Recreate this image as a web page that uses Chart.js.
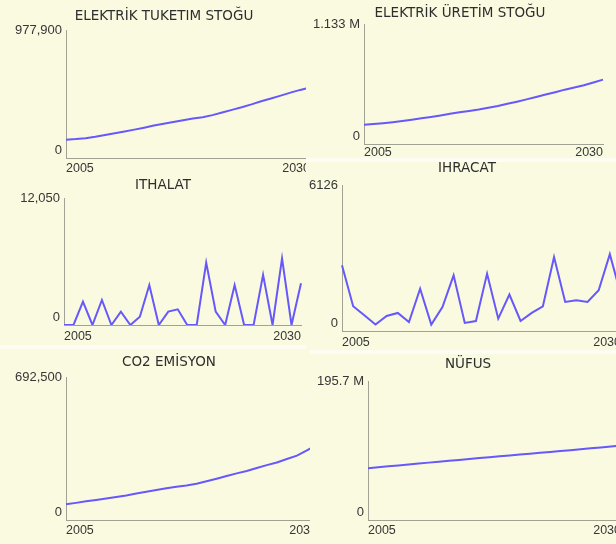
<!DOCTYPE html>
<html>
<head>
<meta charset="utf-8">
<script src="https://cdn.jsdelivr.net/npm/chart.js@4.4.0/dist/chart.umd.min.js"></script>
<style>
  body { margin: 0; width: 616px; height: 544px; overflow: hidden; position: relative; background: #fdfdf3; }
  .panel { position: absolute; overflow: hidden; background: #fafae1; }
  .panel canvas { position: absolute; }
</style>
</head>
<body>
<script>
// yillar (x ekseni)
var years = ['2005','2006','2007','2008','2009','2010','2011','2012','2013','2014','2015','2016','2017',
             '2018','2019','2020','2021','2022','2023','2024','2025','2026','2027','2028','2029','2030'];
var xTickLabels = ['2005', '2030'];

// seriler
var elektrikTuketim = [140000,145000,152000,163000,176000,189000,203000,217000,232000,248000,262000,276000,289000,
                       302000,312000,328000,348000,368000,388000,410000,434000,455000,477000,500000,521000,540000];
var elektrikUretim = [181000,188000,196000,206000,217000,229000,243000,256000,270000,286000,300000,313000,326000,
                      343000,360000,380000,400000,422000,445000,468000,490000,514000,535000,555000,582000,609000];
var ithalat = [0,0,2220,0,2380,0,1270,0,790,3800,0,1270,1490,0,0,5930,1270,0,3800,0,0,4760,0,6340,0,3960];
var ihracat = [2760,1040,660,270,630,760,380,1780,270,1010,2340,340,420,2410,520,1530,420,760,1040,3110,
               1220,1290,1220,1710,3230,1500];
var co2Emisyon = [76000,83000,91000,97000,104000,112000,119000,128000,137000,146000,154000,161000,167000,
                  176000,188000,200000,213000,226000,238000,252000,266000,279000,296000,312000,338000,365000];
var nufus = [73100000,74400000,75700000,77000000,78300000,79600000,80900000,82100000,83400000,84700000,
             86000000,87300000,88500000,89800000,91000000,92300000,93500000,94800000,96000000,97300000,
             98500000,99700000,101000000,102300000,103600000,104900000];

var titles = ['ELEKTRİK TUKETIM STOĞU', 'ELEKTRİK ÜRETİM STOĞU', 'ITHALAT', 'IHRACAT', 'CO2 EMİSYON', 'NÜFUS'];
var yMax = [977900, 1133000, 12050, 6126, 692500, 195700000];
var yMaxLabels = ['977,900', '1.133 M', '12,050', '6126', '692,500', '195.7 M'];

var series = [elektrikTuketim, elektrikUretim, ithalat, ihracat, co2Emisyon, nufus];

// panel yerlesimi: kutu (sayfa), canvas (sayfa), ic bosluklar
var panels = [
  { box: [0, 0, 306, 176],     canvas: [0, 0, 330, 178],     padL: 18, padR: 20, tp: 8.3,  tb: 7.3,  yw: 48, xp: 3 },
  { box: [306, 0, 310, 158],   canvas: [306, 0, 317, 164],   padL: 11, padR: 20, tp: 4.8,  tb: 4.8,  yw: 47, xp: 1 },
  { box: [0, 176, 306, 169],   canvas: [0, 170, 321, 175],   padL: 25, padR: 20, tp: 6.8,  tb: 6.8,  yw: 39, xp: 4.5 },
  { box: [306, 162, 310, 188], canvas: [306, 155, 335, 196], padL: 7,  padR: 20, tp: 5.3,  tb: 10.3, yw: 29, xp: 4.5 },
  { box: [0, 349, 310, 195],   canvas: [0, 345, 337, 195],   padL: 21, padR: 20, tp: 8.8,  tb: 8.8,  yw: 45, xp: 3 },
  { box: [310, 354, 306, 190], canvas: [310, 345, 331, 195], padL: 5,  padR: 20, tp: 10.8, tb: 10.8, yw: 53, xp: 3.5 }
];

var lineColor = 'rgb(102, 88, 250)';
var axisColor = '#a2a294';
var textColor = '#363636';

// y ekseni etiketleri eksen kutusuna kirpilmasin diye kutuyu sola uzat
var labelRoom = {
  id: 'labelRoom',
  afterLayout: function (chart) { chart.scales.y.left = 0; }
};

panels.forEach(function (p, i) {
  var div = document.createElement('div');
  div.className = 'panel';
  div.style.left = p.box[0] + 'px';
  div.style.top = p.box[1] + 'px';
  div.style.width = p.box[2] + 'px';
  div.style.height = p.box[3] + 'px';
  var cv = document.createElement('canvas');
  cv.width = p.canvas[2];
  cv.height = p.canvas[3];
  cv.style.left = (p.canvas[0] - p.box[0]) + 'px';
  cv.style.top = (p.canvas[1] - p.box[1]) + 'px';
  div.appendChild(cv);
  document.body.appendChild(div);

  new Chart(cv.getContext('2d'), {
    type: 'line',
    data: {
      labels: years,
      datasets: [{
        data: series[i],
        borderColor: lineColor,
        borderWidth: 2,
        pointRadius: 0,
        tension: 0,
        fill: false
      }]
    },
    options: {
      responsive: false,
      animation: false,
      devicePixelRatio: 1,
      layout: { padding: { left: p.padL, right: p.padR, top: 0, bottom: 0 } },
      plugins: {
        legend: { display: false },
        tooltip: { enabled: false },
        title: {
          display: true,
          text: titles[i],
          color: '#2e2e2e',
          font: { family: "'DejaVu Sans', sans-serif", size: 13.5, weight: 'normal', lineHeight: 1.2 },
          padding: { top: p.tp + 0.3, bottom: p.tb - 1.9 }
        }
      },
      scales: {
        x: {
          type: 'category',
          offset: false,
          grid: { display: false, drawTicks: false },
          border: { color: axisColor, width: 1 },
          ticks: {
            autoSkip: false,
            maxRotation: 0,
            align: 'inner',
            padding: p.xp,
            color: textColor,
            font: { family: "'Liberation Sans', sans-serif", size: 12.5 },
            callback: function (v, idx) {
              if (idx === 0) return xTickLabels[0];
              if (idx === years.length - 1) return xTickLabels[1];
              return '';
            }
          },
          afterFit: function (s) { s.height = 20; }
        },
        y: {
          min: 0,
          max: yMax[i],
          grid: { display: false, drawTicks: false },
          border: { color: axisColor, width: 1 },
          afterBuildTicks: function (s) { s.ticks = [{ value: 0 }, { value: yMax[i] }]; },
          ticks: {
            padding: 4,
            color: textColor,
            font: { family: "'Liberation Sans', sans-serif", size: 13 },
            // sifir etiketi eksenin biraz ustunde duruyor
            callback: function (v) { return v === 0 ? ['0', ''] : yMaxLabels[i]; }
          },
          afterFit: function (s) { s.width = p.yw; }
        }
      }
    },
    plugins: [labelRoom]
  });
});
</script>
</body>
</html>
